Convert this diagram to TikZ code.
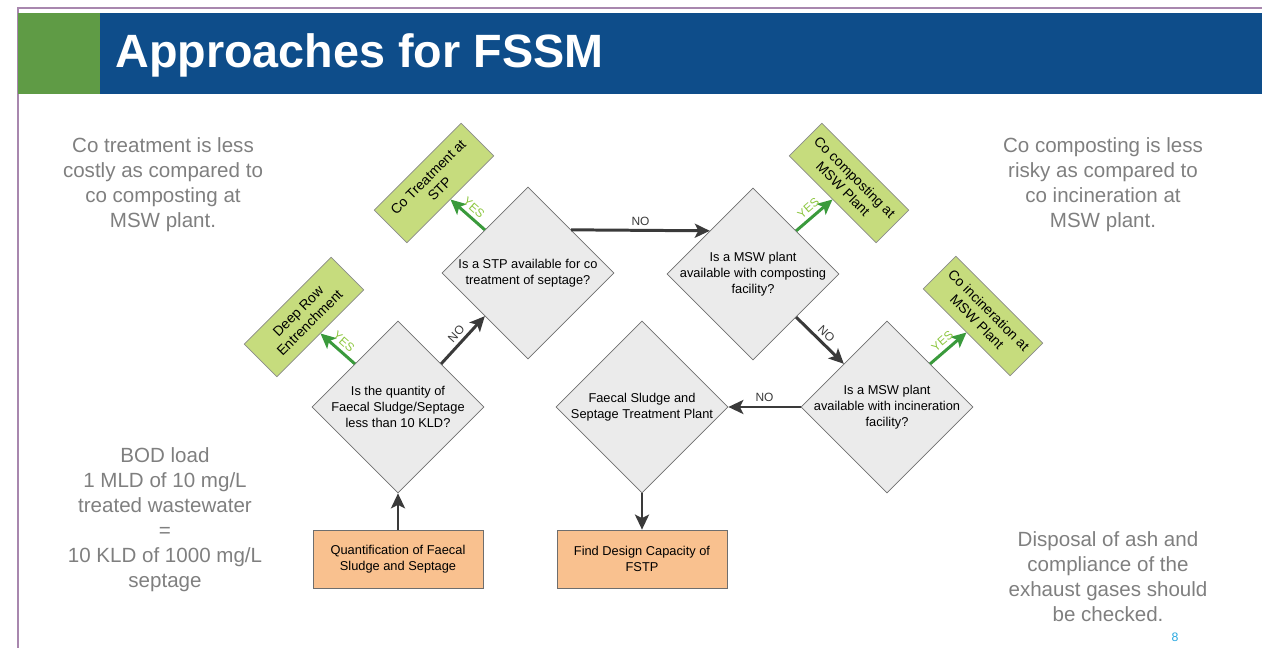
\documentclass[tikz,border=0pt]{standalone}
\usepackage{fontspec}
\setmainfont{Liberation Sans}
\usetikzlibrary{shapes.geometric, arrows.meta, positioning}
\definecolor{framelin}{HTML}{A887AE}
\definecolor{barblue}{HTML}{0E4D8A}
\definecolor{bargreen}{HTML}{5F9B45}
\definecolor{sidegray}{HTML}{7F7F7F}
\definecolor{decfill}{HTML}{EBEBEB}
\definecolor{decline}{HTML}{6E6E6E}
\definecolor{actfill}{HTML}{F9C18F}
\definecolor{endfill}{HTML}{C6DC7D}
\definecolor{arrdark}{HTML}{3A3A3A}
\definecolor{arryes}{HTML}{3A9A3C}
\definecolor{yestext}{HTML}{8CC63F}
\definecolor{pagenum}{HTML}{29A8E0}

\begin{document}
\begin{tikzpicture}[
    x=0.02cm, y=-0.02cm,
    every node/.style={font=\fontsize{7.3}{9}\selectfont},
    dec/.style={diamond, aspect=1, draw=decline, fill=decfill, minimum size=3.44cm,
                inner sep=0pt},
    dectxt/.style={align=center, inner sep=0pt},
    act/.style={draw=decline, fill=actfill, minimum width=3.4cm, minimum height=1.16cm,
                align=center},
    endbox/.style={draw=decline!80, fill=endfill, minimum width=2.46cm,
                minimum height=0.92cm, align=center, inner sep=1pt,
                font=\fontsize{7.9}{9.4}\selectfont},
    arr/.style={-{Stealth[length=3mm, width=2.8mm, inset=0.7mm]}, line width=1.7pt,
                draw=arrdark},
    yes/.style={-{Stealth[length=3mm, width=2.8mm, inset=0.7mm]}, line width=1.7pt,
                draw=arryes},
    nolbl/.style={font=\fontsize{6.8}{7}\selectfont, text=arrdark, inner sep=2pt},
    yeslbl/.style={font=\fontsize{6.8}{7}\selectfont, text=yestext, inner sep=2pt},
    side/.style={align=center, text=sidegray, font=\fontsize{11.7}{14.2}\selectfont}
]
    \useasboundingbox (0,0) rectangle (1262,648);
    \draw[framelin, line width=0.6pt] (18,648) -- (18,8) -- (1262,8);
    \fill[bargreen] (18,13) rectangle (100,94);
    \fill[barblue] (100,13) rectangle (1262,94);
    \node[anchor=base west, text=white, inner sep=0pt,
          font=\fontsize{26.6}{30}\selectfont\bfseries] (title) at (115,68)
          {Approaches for FSSM};

    \node[side] (costly) at (163,185) {Co treatment is less\\costly as compared to\\co composting at\\MSW plant.};
    \node[side] (risky) at (1103,185) {Co composting is less\\risky as compared to\\co incineration at\\MSW plant.};
    \node[side] (bod) at (165,520) {BOD load\\1 MLD of 10 mg/L\\treated wastewater\\=\\10 KLD of 1000 mg/L\\septage};
    \node[side] (ash) at (1108,577) {Disposal of ash and\\compliance of the\\exhaust gases should\\be checked.};
    \node[text=pagenum, font=\fontsize{7}{8}\selectfont] (page) at (1175,637) {8};

    \node[dec] (qty) at (398,407) {};
    \node[dectxt] at (qty) {Is the quantity of\\Faecal Sludge/Septage\\less than 10 KLD?};
    \node[dec] (stp) at (528,273) {};
    \node[dectxt] at (stp) {Is a STP available for co\\treatment of septage?};
    \node[dec] (comp) at (753,274) {};
    \node[dectxt] at (comp) {Is a MSW plant\\available with composting\\facility?};
    \node[dec] (incin) at (887,407) {};
    \node[dectxt] at (incin) {Is a MSW plant\\available with incineration\\facility?};
    \node[dec] (fstp) at (642,407) {};
    \node[dectxt] at (fstp) {Faecal Sludge and\\Septage Treatment Plant};

    \node[act] (quant) at (398,559) {Quantification of Faecal\\Sludge and Septage};
    \node[act] (design) at (642,559) {Find Design Capacity of\\FSTP};

    \node[endbox, rotate=45] (deep) at (304,317) {Deep Row\\Entrenchment};
    \node[endbox, rotate=45] (cotreat) at (434,183) {Co Treatment at\\STP};
    \node[endbox, rotate=-45] (cocomp) at (849,183) {Co composting at\\MSW Plant};
    \node[endbox, rotate=-45] (coincin) at (983,316) {Co incineration at\\MSW Plant};

    \draw[arr] (quant) -- (qty.south);
    \draw[arr] (qty.north east) -- node[nolbl, sloped, above] {NO} (stp.south west);
    \draw[arr] (stp.north east) -- node[nolbl, above] {NO} (comp.north west);
    \draw[arr] (comp.south east) -- node[nolbl, sloped, above] {NO} (incin.north west);
    \draw[arr] (incin.west) -- node[nolbl, above] {NO} (fstp.east);
    \draw[arr] (fstp.south) -- (design);

    \draw[yes] (qty.north west) -- node[yeslbl, sloped, above] {YES} (deep.south);
    \draw[yes] (stp.north west) -- node[yeslbl, sloped, above] {YES} (cotreat.south);
    \draw[yes] (comp.north east) -- node[yeslbl, sloped, above] {YES} (cocomp.south);
    \draw[yes] (incin.north east) -- node[yeslbl, sloped, above] {YES} (coincin.south);
\end{tikzpicture}
\end{document}
